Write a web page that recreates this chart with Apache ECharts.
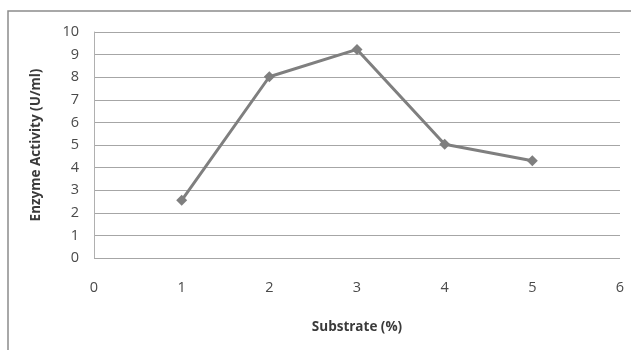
<!DOCTYPE html>
<html>
<head>
<meta charset="utf-8">
<script src="https://cdn.jsdelivr.net/npm/echarts@6/dist/echarts.min.js"></script>
<style>
  html, body { margin: 0; padding: 0; background: #fff; }
  #chart { width: 631px; height: 350px; }
</style>
</head>
<body>
<div id="chart"></div>
<script>
var substrate = [1, 2, 3, 4, 5];
var activity = [2.55, 8.02, 9.23, 5.03, 4.3];
var xTicks = [0, 6, 1];
var yTicks = [0, 10, 1];

var chartDom = document.getElementById('chart');
var myChart = echarts.init(chartDom);
var option;

var points = substrate.map(function (s, i) { return [s, activity[i]]; });

option = {
    animation: false,
    textStyle: { fontFamily: 'Open Sans' },
    graphic: [
        {
            type: 'rect',
            shape: { x: 8, y: 11, width: 640, height: 360 },
            style: { fill: 'none', stroke: '#8c8c8c', lineWidth: 1.5 }
        }
    ],
    grid: { left: 94, right: 11, top: 32, bottom: 92 },
    xAxis: {
        type: 'value',
        min: xTicks[0],
        max: xTicks[1],
        interval: xTicks[2],
        name: 'Substrate (%)',
        nameLocation: 'middle',
        nameGap: 62,
        nameTextStyle: { fontSize: 13.5, fontWeight: 'bold', color: '#3a3a3a' },
        axisLine: { show: false },
        axisTick: { show: false },
        axisLabel: { fontSize: 14.5, color: '#4a4a4a', margin: 22 },
        splitLine: { show: false }
    },
    yAxis: {
        type: 'value',
        min: yTicks[0],
        max: yTicks[1],
        interval: yTicks[2],
        name: 'Enzyme Activity (U/ml)',
        nameLocation: 'middle',
        nameGap: 51,
        nameTextStyle: { fontSize: 13.5, fontWeight: 'bold', color: '#3a3a3a' },
        axisLine: { show: true, lineStyle: { color: '#b0b0b0', width: 1 } },
        axisTick: { show: false },
        axisLabel: { fontSize: 14.5, color: '#4a4a4a', margin: 15 },
        splitLine: { show: true, lineStyle: { color: '#a6a6a6', width: 1 } }
    },
    series: [
        {
            type: 'line',
            data: points,
            symbol: 'diamond',
            symbolSize: 11,
            lineStyle: { color: '#7f7f7f', width: 3 },
            itemStyle: { color: '#7f7f7f' }
        }
    ]
};

option && myChart.setOption(option);
</script>
</body>
</html>
